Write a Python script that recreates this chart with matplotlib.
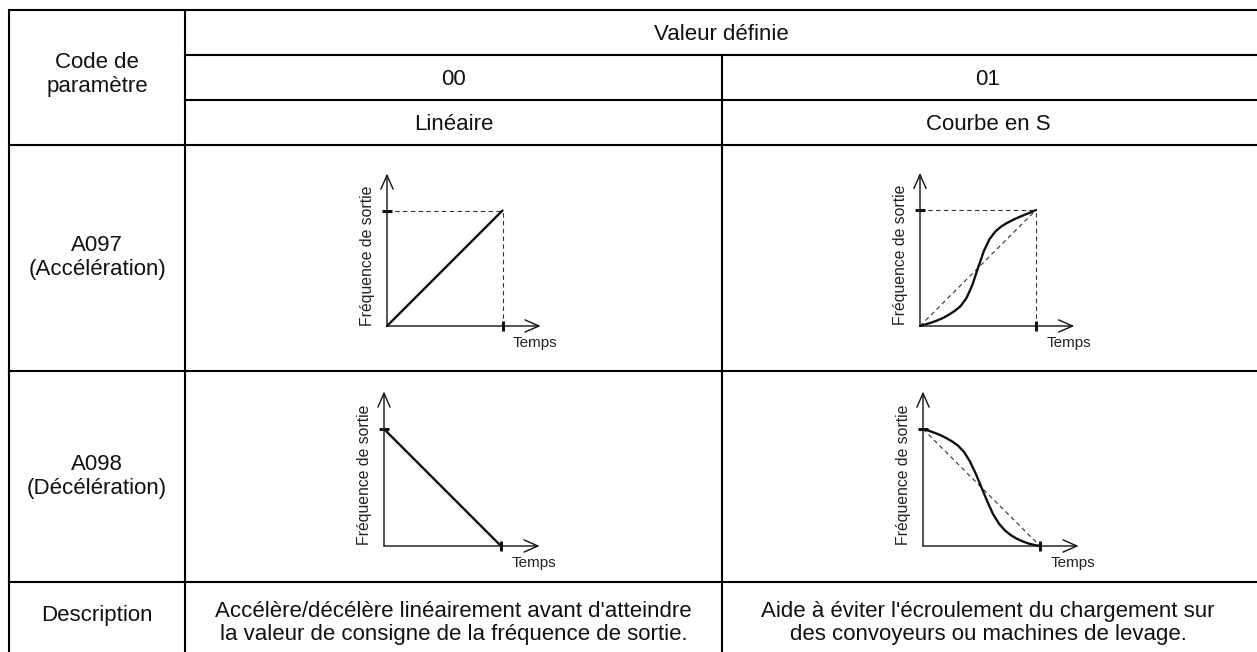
import matplotlib
matplotlib.use("Agg")
import matplotlib.pyplot as plt

plt.rcParams["font.family"] = ["Liberation Sans", "DejaVu Sans"]

W, H = 1257, 652

# ---- table content ----
header_top = "Valeur définie"
code_header = ["Code de", "paramètre"]
setting_codes = ["00", "01"]
setting_names = ["Linéaire", "Courbe en S"]
param_labels = [["A097", "(Accélération)"], ["A098", "(Décélération)"]]
desc_label = "Description"
descriptions = [
    ["Accélère/décélère linéairement avant d'atteindre",
     "la valeur de consigne de la fréquence de sortie."],
    ["Aide à éviter l'écroulement du chargement sur",
     "des convoyeurs ou machines de levage."],
]
x_label = "Temps"
y_label = "Fréquence de sortie"

# ---- curve values (time and output frequency, normalised) ----
linear_time = [0.0, 1.0]
linear_accel = [0.0, 1.0]
linear_decel = [1.0, 0.0]
s_time = [0.0, 0.05, 0.1, 0.15, 0.2, 0.25, 0.3, 0.35, 0.4, 0.45, 0.5,
          0.55, 0.6, 0.65, 0.7, 0.75, 0.8, 0.85, 0.9, 0.95, 1.0]
s_accel = [0.0, 0.015, 0.03, 0.048, 0.07, 0.098, 0.13, 0.172, 0.24, 0.35, 0.5,
           0.645, 0.75, 0.815, 0.858, 0.888, 0.914, 0.937, 0.958, 0.978, 1.0]
s_decel = [1.0, 0.985, 0.967, 0.947, 0.922, 0.893, 0.857, 0.805, 0.725, 0.62, 0.5,
           0.38, 0.27, 0.19, 0.133, 0.093, 0.063, 0.04, 0.022, 0.009, 0.0]

# ---- layout (pixels) ----
col_x = [9, 185, 722, 1262]
row_y = [10, 55, 100, 145, 371, 582, 656]
TXT = 16
LW = 1.5

fig = plt.figure(figsize=(W / 100, H / 100), dpi=100)
ax = fig.add_axes([0, 0, 1, 1])
ax.set_xlim(0, W)
ax.set_ylim(H, 0)
ax.axis("off")

line_kw = dict(color="black", lw=LW, solid_capstyle="projecting")
ax.plot([col_x[0], col_x[-1]], [row_y[0]] * 2, **line_kw)
for y in row_y[1:3]:
    ax.plot([col_x[1], col_x[-1]], [y, y], **line_kw)
for y in row_y[3:]:
    ax.plot([col_x[0], col_x[-1]], [y, y], **line_kw)
ax.plot([col_x[0]] * 2, [row_y[0], row_y[-1]], **line_kw)
ax.plot([col_x[1]] * 2, [row_y[0], row_y[-1]], **line_kw)
ax.plot([col_x[2]] * 2, [row_y[1], row_y[-1]], **line_kw)

col_c = [(col_x[0] + col_x[1]) / 2, (col_x[1] + col_x[2]) / 2, 988]


def put(x, y, s):
    ax.text(x, y, s, ha="center", va="baseline", fontsize=TXT, color="#111111")


put((col_x[1] + col_x[-1] - 5) / 2, 40, header_top)
put(col_c[0], 68, code_header[0])
put(col_c[0], 92, code_header[1])
for i in range(2):
    put(col_c[i + 1], 85, setting_codes[i])
    put(col_c[i + 1], 130, setting_names[i])

row_base = [251, 470]
for (a, b), yb in zip(param_labels, row_base):
    put(col_c[0], yb, a)
    put(col_c[0], yb + 24, b)

put(col_c[0], 621, desc_label)
for i, (l1, l2) in enumerate(descriptions):
    put(col_c[i + 1], 617, l1)
    put(col_c[i + 1], 640, l2)


def draw_diagram(ox, oy, t, f, ref=False, s=116):
    x0, x1, y0, y1 = -0.3, 1.5, -0.25, 1.42
    dax = fig.add_axes([(ox + x0 * s) / W, (H - oy + y0 * s) / H,
                        (x1 - x0) * s / W, (y1 - y0) * s / H])
    dax.set_xlim(x0, x1)
    dax.set_ylim(y0, y1)
    dax.axis("off")
    arrow = dict(arrowstyle="->,head_length=0.5,head_width=0.22", lw=1.0,
                 color="#111111", mutation_scale=20, shrinkA=0, shrinkB=0)
    dax.annotate("", xy=(0, 1.32), xytext=(0, 0), arrowprops=arrow)
    dax.annotate("", xy=(1.33, 0), xytext=(0, 0), arrowprops=arrow)
    dash = dict(color="#333333", lw=0.8, dashes=(4, 3))
    t_end = t[-1]
    f_top = max(f)
    if f[0] < f[-1]:
        dax.plot([0, t_end], [f_top, f_top], **dash)
        dax.plot([t_end, t_end], [0, f_top], **dash)
    if ref:
        dax.plot([t[0], t[-1]], [f[0], f[-1]], **dash)
    dax.plot(t, f, color="#111111", lw=1.7, solid_capstyle="round", solid_joinstyle="round")
    dax.plot([0], [f_top], marker="_", ms=7, mew=2.2, color="#111111")
    dax.plot([t_end], [0], marker="|", ms=7, mew=2.2, color="#111111")
    dax.text(1.28, -0.145, x_label, ha="center", va="center", fontsize=11, color="#222222")
    dax.text(-0.165, 0.61, y_label, ha="center", va="center", rotation=90,
             fontsize=11.3, color="#222222")


draw_diagram(387, 326, linear_time, linear_accel, s=115.5)
draw_diagram(920, 326, s_time, s_accel, ref=True, s=116)
draw_diagram(384, 546, linear_time, linear_decel, s=117)
draw_diagram(923, 546, s_time, s_decel, ref=True, s=117)

fig.savefig("out.png", dpi=100)
